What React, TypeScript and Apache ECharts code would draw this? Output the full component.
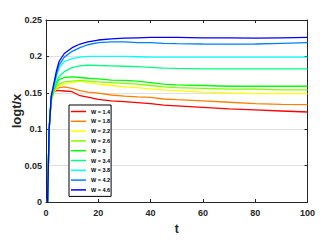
import React, { useEffect, useRef } from "react";
import * as echarts from "echarts";

const tValues = [0.6, 1.2, 2, 3, 4, 5, 7, 10, 13, 16, 20, 25, 30, 35, 40, 45, 50, 60, 70, 80, 90, 100];

const w14 = [0, 0.1, 0.14, 0.151, 0.153, 0.153, 0.1525, 0.1515, 0.146, 0.144, 0.141, 0.139, 0.138, 0.1365, 0.135, 0.133, 0.132, 0.13, 0.128, 0.1265, 0.125, 0.1236];
const w18 = [0, 0.1, 0.14, 0.152, 0.155, 0.157, 0.158, 0.156, 0.153, 0.151, 0.1495, 0.147, 0.1455, 0.1445, 0.1438, 0.1415, 0.1405, 0.139, 0.137, 0.135, 0.134, 0.1337];
const w22 = [0, 0.1, 0.14, 0.15, 0.156, 0.16, 0.162, 0.164, 0.166, 0.164, 0.162, 0.16, 0.158, 0.157, 0.1555, 0.154, 0.153, 0.151, 0.15, 0.149, 0.149, 0.1488];
const w26 = [0, 0.1, 0.141, 0.151, 0.158, 0.162, 0.165, 0.166, 0.167, 0.166, 0.165, 0.164, 0.163, 0.162, 0.16, 0.158, 0.157, 0.156, 0.155, 0.155, 0.154, 0.154];
const w30 = [0, 0.1, 0.142, 0.153, 0.162, 0.168, 0.171, 0.172, 0.171, 0.17, 0.169, 0.1675, 0.167, 0.166, 0.164, 0.162, 0.161, 0.16, 0.159, 0.159, 0.159, 0.159];
const w34 = [0, 0.1, 0.143, 0.155, 0.165, 0.172, 0.179, 0.1845, 0.187, 0.188, 0.1875, 0.187, 0.1865, 0.186, 0.185, 0.184, 0.1835, 0.183, 0.183, 0.183, 0.183, 0.183];
const w38 = [0, 0.1, 0.145, 0.158, 0.172, 0.184, 0.193, 0.197, 0.199, 0.2, 0.2, 0.2, 0.2, 0.1995, 0.199, 0.199, 0.199, 0.199, 0.199, 0.199, 0.199, 0.199];
const w42 = [0, 0.1, 0.145, 0.16, 0.176, 0.188, 0.199, 0.207, 0.212, 0.216, 0.219, 0.22, 0.22, 0.219, 0.219, 0.218, 0.2175, 0.217, 0.2168, 0.217, 0.218, 0.219];
const w46 = [0, 0.1, 0.145, 0.163, 0.18, 0.193, 0.204, 0.212, 0.217, 0.22, 0.2225, 0.224, 0.225, 0.2255, 0.226, 0.226, 0.226, 0.2255, 0.2255, 0.225, 0.2255, 0.226];

const seriesNames = ["W = 1.4", "W = 1.8", "W = 2.2", "W = 2.6", "W = 3", "W = 3.4", "W = 3.8", "W = 4.2", "W = 4.6"];
const seriesValues = [w14, w18, w22, w26, w30, w34, w38, w42, w46];
const seriesColors = ["#ff0000", "#ff8000", "#ffff00", "#80ff00", "#00ff00", "#00ff80", "#00ffff", "#0080ff", "#0000ff"];

const xTicks = { min: 0, max: 100, interval: 20 };
const yTicks = { min: 0, max: 0.25, interval: 0.05 };

const FONT = "Liberation Sans, Arial, Helvetica, sans-serif";

export default function App() {
  const ref = useRef<HTMLDivElement>(null);
  useEffect(() => {
    if (!ref.current) return;
    const chart = echarts.init(ref.current, undefined, { renderer: "svg" });
    const axisLine = { show: true, onZero: false, lineStyle: { color: "#262626", width: 1 } };
    const tick = { show: true, inside: true, length: 3, lineStyle: { color: "#262626" } };
    chart.setOption({
      animation: false,
      backgroundColor: "#ffffff",
      grid: { left: 46, right: 24.5, top: 20, bottom: 39, containLabel: false, outerBoundsMode: "none" },
      legend: {
        orient: "vertical",
        left: 69,
        top: 105,
        data: seriesNames,
        icon: "rect",
        backgroundColor: "#ffffff",
        borderColor: "#000000",
        borderWidth: 1,
        borderRadius: 0,
        padding: [3, 1, 3, 2],
        itemWidth: 15,
        itemHeight: 1.5,
        itemGap: 2.8,
        itemTextGap: 4,
        textStyle: { fontSize: 5.5, fontWeight: "bold", fontFamily: FONT, color: "#000", lineHeight: 7 },
      },
      xAxis: [
        {
          type: "value",
          position: "bottom",
          ...xTicks,
          name: "t",
          nameLocation: "middle",
          nameGap: 21,
          nameMoveOverlap: false,
          nameTextStyle: { fontSize: 12, fontWeight: "bold", fontFamily: FONT, color: "#262626" },
          axisLine,
          axisTick: tick,
          axisLabel: { margin: 6, fontSize: 9, fontWeight: "bold", fontFamily: FONT, color: "#262626" },
          splitLine: { show: false },
        },
        {
          type: "value",
          position: "top",
          ...xTicks,
          axisLine,
          axisTick: tick,
          axisLabel: { show: false },
          splitLine: { show: false },
        },
      ],
      yAxis: [
        {
          type: "value",
          position: "left",
          ...yTicks,
          name: "logt/x",
          nameLocation: "middle",
          nameGap: 23,
          nameMoveOverlap: false,
          nameTextStyle: { fontSize: 13, fontWeight: "bold", fontFamily: FONT, color: "#262626" },
          axisLine,
          axisTick: tick,
          axisLabel: { margin: 4, fontSize: 9, fontWeight: "bold", fontFamily: FONT, color: "#262626" },
          splitLine: { show: true, lineStyle: { color: "#e0e0e0", width: 1 } },
        },
        {
          type: "value",
          position: "right",
          ...yTicks,
          axisLine,
          axisTick: tick,
          axisLabel: { show: false },
          splitLine: { show: false },
        },
      ],
      series: seriesNames.map((name, i) => ({
        name,
        type: "line",
        xAxisIndex: 0,
        yAxisIndex: 0,
        data: tValues.map((t, j) => [t, seriesValues[i][j]]),
        symbol: "none",
        smooth: false,
        lineStyle: { width: 1.3, color: seriesColors[i] },
        itemStyle: { color: seriesColors[i] },
      })),
    });
    return () => chart.dispose();
  }, []);
  return <div ref={ref} style={{ width: 332, height: 241, position: "absolute", left: 0, top: 0 }} />;
}
